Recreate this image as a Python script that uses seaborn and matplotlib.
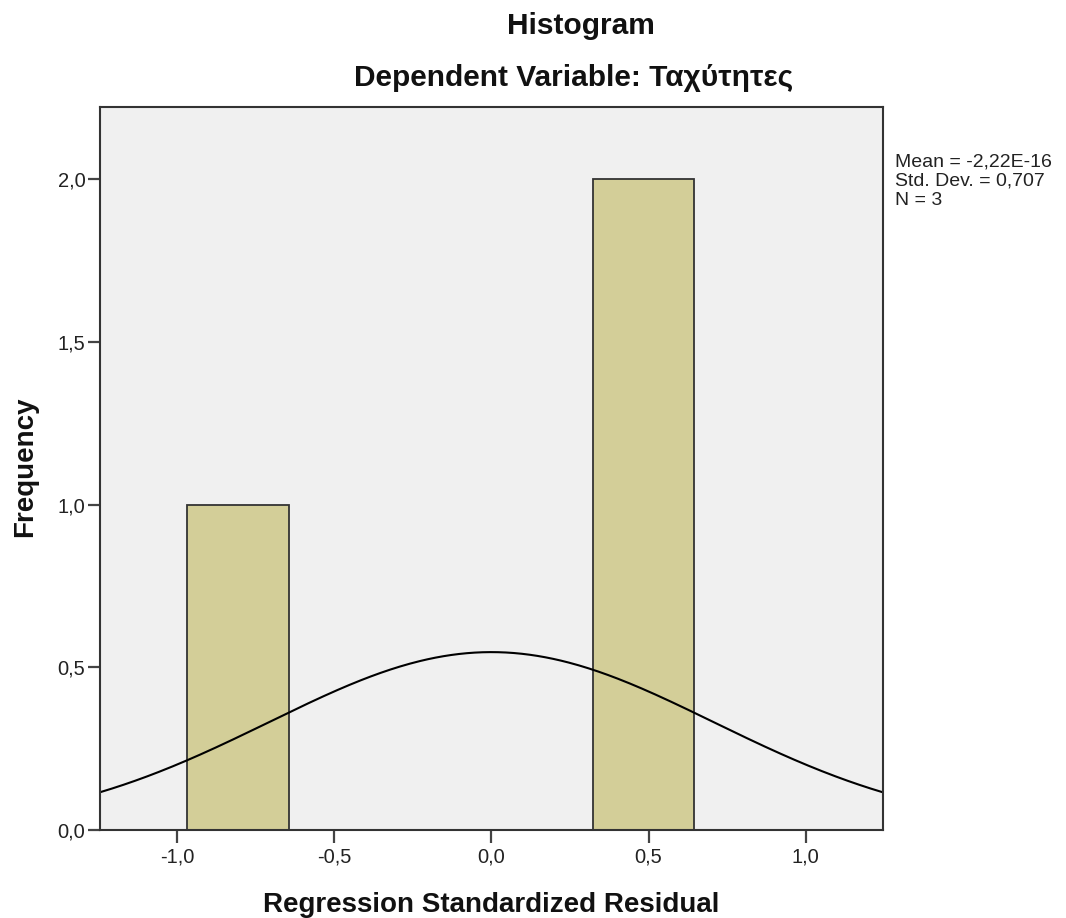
import numpy as np
import pandas as pd
import matplotlib
matplotlib.use("Agg")
import matplotlib.pyplot as plt
import seaborn as sns

# ---- data ----
residuals = [-0.8165, 0.4082, 0.4082]
bin_edges = [-0.968, -0.645, -0.3225, 0.0, 0.3225, 0.645]
x_ticks = [-1.0, -0.5, 0.0, 0.5, 1.0]
x_tick_labels = ["-1,0", "-0,5", "0,0", "0,5", "1,0"]
y_ticks = [0.0, 0.5, 1.0, 1.5, 2.0]
y_tick_labels = ["0,0", "0,5", "1,0", "1,5", "2,0"]
stats_text = ["Mean = -2,22E-16", "Std. Dev. = 0,707", "N = 3"]
title1 = "Histogram"
title2 = "Dependent Variable: Ταχύτητες"
x_label = "Regression Standardized Residual"
y_label = "Frequency"

sns.set_style("white")
plt.rcParams['font.family'] = ['Liberation Sans', 'DejaVu Sans']

W, H = 1066, 918
fig = plt.figure(figsize=(W / 100, H / 100), dpi=100)
ax = fig.add_axes([100 / W, 1 - 830 / H, (882.7 - 100) / W, (830 - 106.7) / H])
ax.set_facecolor("#F0F0F0")

df = pd.DataFrame({"r": residuals})
sns.histplot(data=df, x="r", bins=bin_edges, ax=ax, color="#D3CE98", alpha=1.0,
             edgecolor="#333333", linewidth=1.3)

# fitted normal curve
mean = float(np.mean(residuals))
sd = float(np.std(residuals, ddof=1))
w = bin_edges[1] - bin_edges[0]
xs = np.linspace(-1.245, 1.245, 400)
ys = len(residuals) * w * np.exp(-0.5 * ((xs - mean) / sd) ** 2) / (sd * np.sqrt(2 * np.pi))
sns.lineplot(x=xs, y=ys, ax=ax, color="black", linewidth=1.5)

ax.set_xlim(-1.245, 1.245)
ax.set_ylim(0, 2.223)
ax.set_xticks(x_ticks)
ax.set_xticklabels(x_tick_labels)
ax.set_yticks(y_ticks)
ax.set_yticklabels(y_tick_labels)
ax.tick_params(axis="both", direction="out", length=9, width=1.6, color="#444444",
               labelsize=14.5, labelcolor="#222222", bottom=True, left=True)
ax.tick_params(axis="x", pad=3.3)
ax.tick_params(axis="y", pad=1.5)
for s in ax.spines.values():
    s.set_color("#333333")
    s.set_linewidth(1.5)
ax.set_xlabel("")
ax.set_ylabel("")

fig.text(581 / W, 1 - 34 / H, title1, ha="center", va="baseline",
         fontsize=21.5, fontweight="bold", color="#111111")
fig.text(573.5 / W, 1 - 86 / H, title2, ha="center", va="baseline",
         fontsize=21.5, fontweight="bold", color="#111111")
fig.text(491 / W, 1 - 911.5 / H, x_label, ha="center", va="baseline",
         fontsize=20, fontweight="bold", color="#111111")
fig.text(32 / W, 1 - 466.5 / H, y_label, ha="center", va="baseline", fontsize=20,
         fontweight="bold", rotation=90, rotation_mode="anchor", color="#111111")
for i, line in enumerate(stats_text):
    fig.text(895 / W, 1 - (166.7 + 19.2 * i) / H, line, ha="left", va="baseline",
             fontsize=14, color="#222222")

fig.savefig("out.png", dpi=100)
